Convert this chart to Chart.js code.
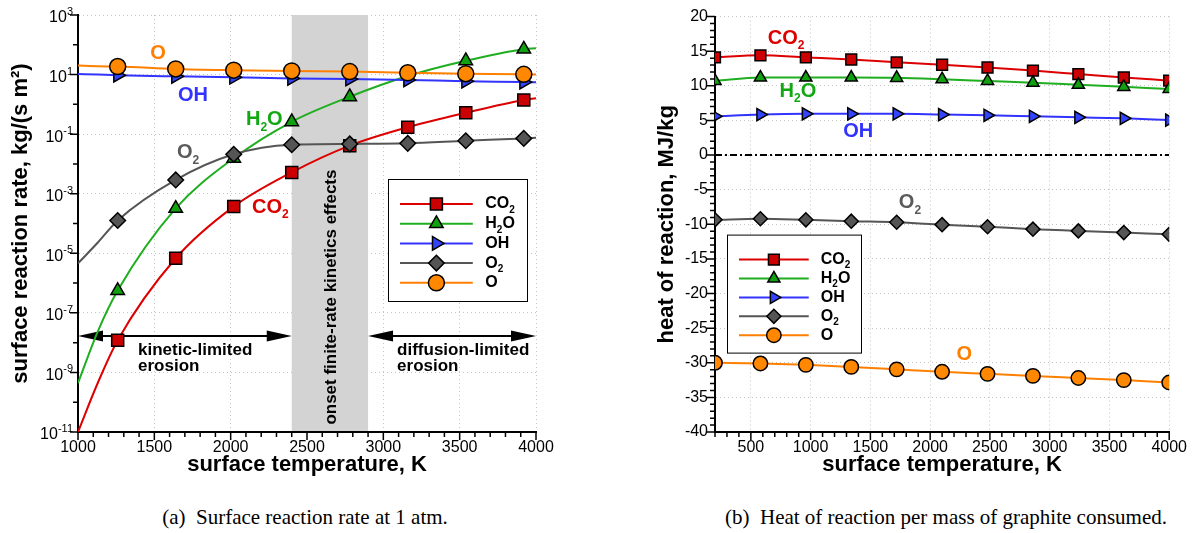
<!DOCTYPE html>
<html>
<head>
<meta charset="utf-8">
<script src="https://cdn.jsdelivr.net/npm/chart.js@4.4.1/dist/chart.umd.min.js"></script>
<style>
  body { margin: 0; background: #fff; width: 1193px; height: 533px; overflow: hidden; position: relative; }
  canvas { position: absolute; top: 0; }
  #rate { left: 0; }
  #heat { left: 600px; }
  .cap { position: absolute; top: 505px; font: 21px "Liberation Serif", serif; white-space: nowrap; transform: translateX(-50%); }
</style>
</head>
<body>
<canvas id="rate" width="590" height="490"></canvas>
<canvas id="heat" width="593" height="490"></canvas>
<div class="cap" style="left:305px">(a)&nbsp; Surface reaction rate at 1 atm.</div>
<div class="cap" style="left:946px">(b)&nbsp; Heat of reaction per mass of graphite consumed.</div>
<script>
// (a) surface reaction rate, kg/(s m2)
// the first two temperatures and the last one only carry the fitted curve, no symbol
var tempA = [1000, 1130, 1260, 1640, 2020, 2400, 2780, 3160, 3540, 3920, 4000];
var co2A = [1e-11, 4.5e-10, 1.2e-8, 6.8e-6, 3.7e-4, 5.2e-3, 4.1e-2, 0.17, 0.52, 1.4, 1.6];
var h2oA = [4.4e-10, 2.4e-8, 5.6e-7, 3.2e-4, 1.55e-2, 0.26, 1.8, 8.9, 29, 71, 76];
var ohA = [10.5, 10.0, 9.5, 8.7, 8.1, 7.4, 7.1, 6.6, 6.0, 5.6, 5.5];
var o2A = [4.6e-6, 2.3e-5, 1.26e-4, 2.9e-3, 2.1e-2, 4.4e-2, 4.7e-2, 4.9e-2, 6.0e-2, 7.2e-2, 7.6e-2];
var oA = [20, 19, 18.6, 15.5, 14.1, 13.2, 12.6, 11.5, 10.7, 10.2, 10];
var tempTicksA = [1000, 1500, 2000, 2500, 3000, 3500, 4000];
var rateExp = [3, 1, -1, -3, -5, -7, -9, -11];
var bandA = [2400, 2900];

// (b) heat of reaction, MJ/kg
var tempB = [200, 580, 960, 1340, 1720, 2100, 2480, 2860, 3240, 3620, 4000];
var co2B = [14.1, 14.4, 14.1, 13.8, 13.4, 13.05, 12.65, 12.2, 11.7, 11.2, 10.75];
var h2oB = [10.7, 11.2, 11.2, 11.2, 11.15, 10.95, 10.7, 10.45, 10.15, 9.85, 9.55];
var ohB = [5.6, 5.85, 5.95, 5.95, 5.95, 5.85, 5.75, 5.6, 5.45, 5.3, 5.05];
var o2B = [-9.35, -9.2, -9.35, -9.55, -9.7, -10.05, -10.35, -10.7, -10.95, -11.2, -11.45];
var oB = [-30.0, -30.1, -30.3, -30.6, -30.95, -31.3, -31.6, -31.9, -32.2, -32.5, -32.85];
var zeroB = [0, 0];
var tempTicksB = [500, 1000, 1500, 2000, 2500, 3000, 3500, 4000];
var heatTicks = [20, 15, 10, 5, 0, -5, -10, -15, -20, -25, -30, -35, -40];

var FONT = '"Liberation Sans", Arial, sans-serif';
Chart.defaults.font.family = FONT;
Chart.defaults.color = '#000';

var species = [
  { name: 'CO_2', line: '#dd0000', fill: '#cc0000', text: '#dd0000', style: 'rect', r: 8.5, rot: 0 },
  { name: 'H_2O', line: '#1fae1f', fill: '#10a010', text: '#12a812', style: 'triangle', r: 7.8, rot: 0 },
  { name: 'OH', line: '#3333ff', fill: '#3344ff', text: '#3333ff', style: 'triangle', r: 7.8, rot: 90 },
  { name: 'O_2', line: '#555555', fill: '#555555', text: '#5a5a5a', style: 'rectRot', r: 7.8, rot: 0 },
  { name: 'O', line: '#ff8000', fill: '#ff8800', text: '#ff8000', style: 'circle', r: 8, rot: 0 }
];

function speciesSets(temps, series, k0, skip) {
  return species.map(function (sp, k) {
    return {
      label: sp.name,
      data: temps.map(function (t, i) { return { x: t, y: series[k][i] }; }),
      borderColor: sp.line,
      borderWidth: 2,
      backgroundColor: sp.fill,
      pointBackgroundColor: sp.fill,
      pointBorderColor: '#000',
      pointBorderWidth: 1.5,
      pointStyle: sp.style,
      pointRotation: sp.rot,
      pointRadius: function (c) { return skip(c.dataIndex) ? 0 : sp.r * k0; },
      cubicInterpolationMode: 'monotone',
      order: 4 - k
    };
  });
}

// text with '_' marking a subscript character
function chem(ctx, text, x, y, size, color, align, weight) {
  var w8 = weight || 'bold';
  var big = w8 + ' ' + size + 'px ' + FONT;
  var small = w8 + ' ' + Math.round(size * 0.62) + 'px ' + FONT;
  var parts = [];
  for (var i = 0; i < text.length; i++) {
    if (text[i] === '_') { parts.push([text[i + 1], true]); i++; }
    else parts.push([text[i], false]);
  }
  var w = 0;
  parts.forEach(function (p) { ctx.font = p[1] ? small : big; w += ctx.measureText(p[0]).width; });
  var cx = align === 'center' ? x - w / 2 : x;
  ctx.fillStyle = color;
  ctx.textAlign = 'left';
  ctx.textBaseline = 'middle';
  parts.forEach(function (p) {
    ctx.font = p[1] ? small : big;
    ctx.fillText(p[0], cx, p[1] ? y + size * 0.38 : y);
    cx += ctx.measureText(p[0]).width;
  });
}

function arrow(ctx, x1, x2, y) {
  var L = 25, H = 5.5;
  ctx.strokeStyle = '#000';
  ctx.fillStyle = '#000';
  ctx.lineWidth = 2;
  ctx.beginPath(); ctx.moveTo(x1 + 10, y); ctx.lineTo(x2 - 10, y); ctx.stroke();
  ctx.beginPath(); ctx.moveTo(x1, y); ctx.lineTo(x1 + L, y - H); ctx.lineTo(x1 + L, y + H); ctx.closePath(); ctx.fill();
  ctx.beginPath(); ctx.moveTo(x2, y); ctx.lineTo(x2 - L, y - H); ctx.lineTo(x2 - L, y + H); ctx.closePath(); ctx.fill();
}

function legendBox(chart, bx, by, bw, bh, dy, k0) {
  var ctx = chart.ctx;
  ctx.save();
  ctx.fillStyle = '#fff';
  ctx.fillRect(bx, by, bw, bh);
  ctx.strokeStyle = '#000';
  ctx.lineWidth = 1;
  ctx.strokeRect(bx + 0.5, by + 0.5, bw, bh);
  species.forEach(function (sp, k) {
    var ry = by + 25 + k * dy;
    ctx.strokeStyle = sp.line;
    ctx.lineWidth = 2;
    ctx.beginPath(); ctx.moveTo(bx + 12, ry); ctx.lineTo(bx + bw * 0.61, ry); ctx.stroke();
    ctx.fillStyle = sp.fill;
    ctx.strokeStyle = '#000';
    ctx.lineWidth = 1.5;
    Chart.helpers.drawPoint(ctx, { pointStyle: sp.style, radius: sp.r * k0, rotation: sp.rot, borderWidth: 1.5 },
      bx + 12 + (bw * 0.61 - 12) / 2, ry);
    chem(ctx, sp.name, bx + bw * 0.7, ry, 16, '#000', 'left');
  });
  ctx.restore();
}

function tickMarks(chart, xStep, xMajor, yList) {
  var ctx = chart.ctx, a = chart.chartArea, sx = chart.scales.x;
  ctx.save();
  ctx.strokeStyle = '#000';
  ctx.lineWidth = 1.5;
  ctx.beginPath();
  for (var t = sx.min; t <= sx.max; t += xStep) {
    var px = sx.getPixelForValue(t), len = t % xMajor === 0 ? 8 : 5;
    ctx.moveTo(px, a.bottom); ctx.lineTo(px, a.bottom + len);
  }
  yList.forEach(function (yt) {
    ctx.moveTo(a.left, yt[0]); ctx.lineTo(a.left - yt[1], yt[0]);
  });
  ctx.stroke();
  ctx.restore();
}

function gridColor(edge) {
  return function (c) { return c.tick && c.tick.value === edge ? 'rgba(0,0,0,0)' : '#c4c4c4'; };
}

function plainLabel(v) { return String(v); }

var rateDeco = {
  id: 'rateDeco',
  beforeDatasetsDraw: function (chart) {
    var ctx = chart.ctx, a = chart.chartArea, sx = chart.scales.x, sy = chart.scales.y;
    var b1 = sx.getPixelForValue(bandA[0]), b2 = sx.getPixelForValue(bandA[1]);
    ctx.save();
    ctx.fillStyle = '#d3d3d3';
    ctx.fillRect(b1, a.top, b2 - b1, a.bottom - a.top - 1);
    var ya = sy.getPixelForValue(Math.pow(10, -7.78));
    arrow(ctx, a.left, b1, ya);
    arrow(ctx, b2, a.right, ya);
    ctx.restore();
  },
  afterDraw: function (chart) {
    var ctx = chart.ctx, a = chart.chartArea, sx = chart.scales.x, sy = chart.scales.y;
    var P = function (t, lg) { return [sx.getPixelForValue(t), sy.getPixelForValue(Math.pow(10, lg))]; };
    ctx.save();
    var p;
    p = P(1524, 1.72); chem(ctx, 'O', p[0], p[1], 20, species[4].text, 'center');
    p = P(1753, 0.31); chem(ctx, 'OH', p[0], p[1], 20, species[2].text, 'center');
    p = P(2100, -0.52); chem(ctx, 'H_2O', p[0], p[1], 20, species[1].text, 'left');
    p = P(1648, -1.63); chem(ctx, 'O_2', p[0], p[1], 20, species[3].text, 'left');
    p = P(2140, -3.45); chem(ctx, 'CO_2', p[0], p[1], 20, species[0].text, 'left');
    p = P(1393, -8.27); chem(ctx, 'kinetic-limited', p[0], p[1], 17, '#000', 'left');
    p = P(1393, -8.81); chem(ctx, 'erosion', p[0], p[1], 17, '#000', 'left');
    p = P(3090, -8.27); chem(ctx, 'diffusion-limited', p[0], p[1], 17, '#000', 'left');
    p = P(3090, -8.81); chem(ctx, 'erosion', p[0], p[1], 17, '#000', 'left');
    p = P((bandA[0] + bandA[1]) / 2, -6.47);
    ctx.translate(p[0] + 1, p[1]);
    ctx.rotate(-Math.PI / 2);
    chem(ctx, 'onset finite-rate kinetics effects', 0, 0, 17, '#000', 'center');
    ctx.restore();

    legendBox(chart, a.left + 310, a.top + 164, 139, 122, 19.7, 1);

    // log axis labels 10^n
    ctx.save();
    ctx.fillStyle = '#000';
    ctx.textAlign = 'right';
    ctx.textBaseline = 'middle';
    rateExp.forEach(function (e) {
      var py = sy.getPixelForValue(Math.pow(10, e));
      ctx.font = '11px ' + FONT;
      var s = String(e), ew = ctx.measureText(s).width;
      ctx.fillText(s, a.left - 5, py - 3);
      ctx.font = '16px ' + FONT;
      ctx.fillText('10', a.left - 5 - ew, py + 3);
    });
    ctx.restore();

    var yl = [];
    for (var e = -11; e <= 3; e++) yl.push([sy.getPixelForValue(Math.pow(10, e)), e % 2 ? 8 : 5]);
    tickMarks(chart, 100, 500, yl);
  }
};

var heatDeco = {
  id: 'heatDeco',
  afterDraw: function (chart) {
    var ctx = chart.ctx, a = chart.chartArea, sx = chart.scales.x, sy = chart.scales.y;
    var P = function (t, v) { return [sx.getPixelForValue(t), sy.getPixelForValue(v)]; };
    ctx.save();
    var p;
    p = P(641, 16.9); chem(ctx, 'CO_2', p[0], p[1], 20, species[0].text, 'left');
    p = P(740, 9.2); chem(ctx, 'H_2O', p[0], p[1], 20, species[1].text, 'left');
    p = P(1273, 3.45); chem(ctx, 'OH', p[0], p[1], 20, species[2].text, 'left');
    p = P(1738, -6.9); chem(ctx, 'O_2', p[0], p[1], 20, species[3].text, 'left');
    p = P(2221, -28.8); chem(ctx, 'O', p[0], p[1], 20, species[4].text, 'left');
    ctx.restore();

    legendBox(chart, a.left + 12, a.top + 218, 134, 118, 18.9, 0.9);

    var yl = [];
    for (var v = sy.min; v <= sy.max; v += 1) yl.push([sy.getPixelForValue(v), v % 5 === 0 ? 8 : 5]);
    tickMarks(chart, 100, 500, yl);
  }
};

var titleFont = { size: 22, weight: 'bold' };

new Chart(document.getElementById('rate'), {
  type: 'line',
  data: {
    datasets: speciesSets(tempA, [co2A, h2oA, ohA, o2A, oA], 1, function (i) {
      return i < 2 || i === tempA.length - 1;
    })
  },
  options: {
    responsive: false,
    animation: false,
    devicePixelRatio: 1,
    events: [],
    layout: { padding: { left: 0, top: 15, right: 54, bottom: 0 } },
    plugins: { legend: { display: false }, tooltip: { enabled: false } },
    scales: {
      x: {
        type: 'linear', min: 1000, max: 4000,
        afterBuildTicks: function (s) { s.ticks = tempTicksA.map(function (v) { return { value: v }; }); },
        afterFit: function (s) { s.height = 58; },
        ticks: { autoSkip: false, maxRotation: 0, padding: 6, font: { size: 16 }, callback: plainLabel },
        grid: { color: gridColor(1000), drawTicks: false, lineWidth: 1 },
        border: { color: '#000', width: 2, dash: [1, 3] },
        title: { display: true, text: 'surface temperature, K', font: titleFont, padding: { top: 0, bottom: 12 } }
      },
      y: {
        type: 'logarithmic', min: 1e-11, max: 1e3,
        afterBuildTicks: function (s) { s.ticks = rateExp.map(function (e) { return { value: Math.pow(10, e) }; }); },
        afterFit: function (s) { s.width = 78; },
        ticks: { display: false },
        grid: { color: gridColor(1e-11), drawTicks: false, lineWidth: 1 },
        border: { color: '#000', width: 2, dash: [1, 3] },
        title: { display: true, text: 'surface reaction rate, kg/(s m\u00b2)', font: titleFont, padding: { top: 8, bottom: 0 } }
      }
    }
  },
  plugins: [rateDeco]
});

var heatSets = speciesSets(tempB, [co2B, h2oB, ohB, o2B, oB], 0.9, function () { return false; });
heatSets.push({
  label: 'zero',
  data: [{ x: tempB[0], y: zeroB[0] }, { x: tempB[tempB.length - 1], y: zeroB[1] }],
  borderColor: '#000',
  borderWidth: 2,
  borderDash: [7, 3, 2, 3],
  pointRadius: 0,
  order: 10
});

new Chart(document.getElementById('heat'), {
  type: 'line',
  data: { datasets: heatSets },
  options: {
    responsive: false,
    animation: false,
    devicePixelRatio: 1,
    events: [],
    layout: { padding: { left: 0, top: 15, right: 21, bottom: 0 } },
    plugins: { legend: { display: false }, tooltip: { enabled: false } },
    scales: {
      x: {
        type: 'linear', min: 200, max: 4000,
        afterBuildTicks: function (s) { s.ticks = tempTicksB.map(function (v) { return { value: v }; }); },
        afterFit: function (s) { s.height = 58; },
        ticks: { autoSkip: false, maxRotation: 0, padding: 6, font: { size: 16 }, callback: plainLabel },
        grid: { color: gridColor(200), drawTicks: false, lineWidth: 1 },
        border: { color: '#000', width: 2, dash: [1, 3] },
        title: { display: true, text: 'surface temperature, K', font: titleFont, padding: { top: 0, bottom: 12 } }
      },
      y: {
        type: 'linear', min: -40, max: 20,
        afterBuildTicks: function (s) { s.ticks = heatTicks.map(function (v) { return { value: v }; }); },
        afterFit: function (s) { s.width = 115; },
        ticks: { padding: 7, font: { size: 16 } },
        grid: { color: gridColor(-40), drawTicks: false, lineWidth: 1 },
        border: { color: '#000', width: 2, dash: [1, 3] },
        title: { display: true, text: 'heat of reaction, MJ/kg', font: titleFont, padding: { top: 54, bottom: 0 } }
      }
    }
  },
  plugins: [heatDeco]
});
</script>
</body>
</html>
